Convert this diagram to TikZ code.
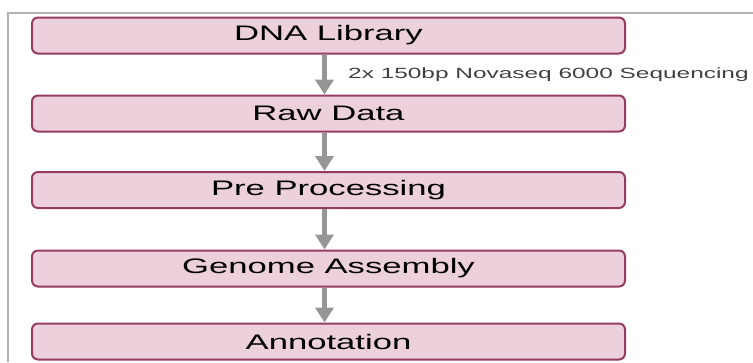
\documentclass[tikz,border=0pt]{standalone}
\usepackage{fontspec}
\setmainfont{Liberation Sans}
\usepackage{graphicx}
\usetikzlibrary{arrows.meta,calc,positioning}
\definecolor{stepfill}{RGB}{236,209,221}
\definecolor{stepline}{RGB}{150,60,98}
\definecolor{flowgray}{RGB}{150,150,150}
\definecolor{framegray}{RGB}{178,178,178}
% labels are set wide, as in the original slide
\newcommand{\widetext}[1]{\scalebox{1.65}[1]{#1}}

\begin{document}
\begin{tikzpicture}[x=1pt,y=-1pt,
    stepbox/.style={draw=stepline,line width=2pt,fill=stepfill,rounded corners=6pt,
      minimum width=593pt,minimum height=36pt,inner sep=0pt,font=\fontsize{21}{21}\selectfont},
    flow/.style={draw=flowgray,line width=4.5pt,-{Triangle[width=18pt,length=15pt]}}]
    \useasboundingbox (0,0) rectangle (753,362);
    % outer frame, cut off at the right and bottom
    \draw[framegray,line width=1.5pt] (8,362) -- (8,13) -- (753,13);
    % pipeline steps
    \node[stepbox] (lib) at (328.5,35.5) {\widetext{DNA Library}};
    \node[stepbox] (raw) at (328.5,113.5) {\widetext{Raw Data}};
    \node[stepbox] (pre) at (328.5,190) {\widetext{Pre Processing}};
    \node[stepbox] (asm) at (328.5,268.5) {\widetext{Genome Assembly}};
    \node[stepbox] (ann) at (328.5,341.5) {\widetext{Annotation}};
    % arrows between steps
    \draw[flow] ($(lib.south)+(-4,0)$) -- ($(raw.north)+(-4,0)$);
    \draw[flow] ($(raw.south)+(-4,0)$) -- ($(pre.north)+(-4,0)$);
    \draw[flow] ($(pre.south)+(-4,0)$) -- ($(asm.north)+(-4,0)$);
    \draw[flow] ($(asm.south)+(-4,0)$) -- ($(ann.north)+(-4,0)$);
    \node[anchor=west,inner sep=0pt,text=black!75,font=\fontsize{14.8}{14.8}\selectfont] (seq)
      at (348,75) {\widetext{2x 150bp Novaseq 6000 Sequencing}};
  \end{tikzpicture}
\end{document}
